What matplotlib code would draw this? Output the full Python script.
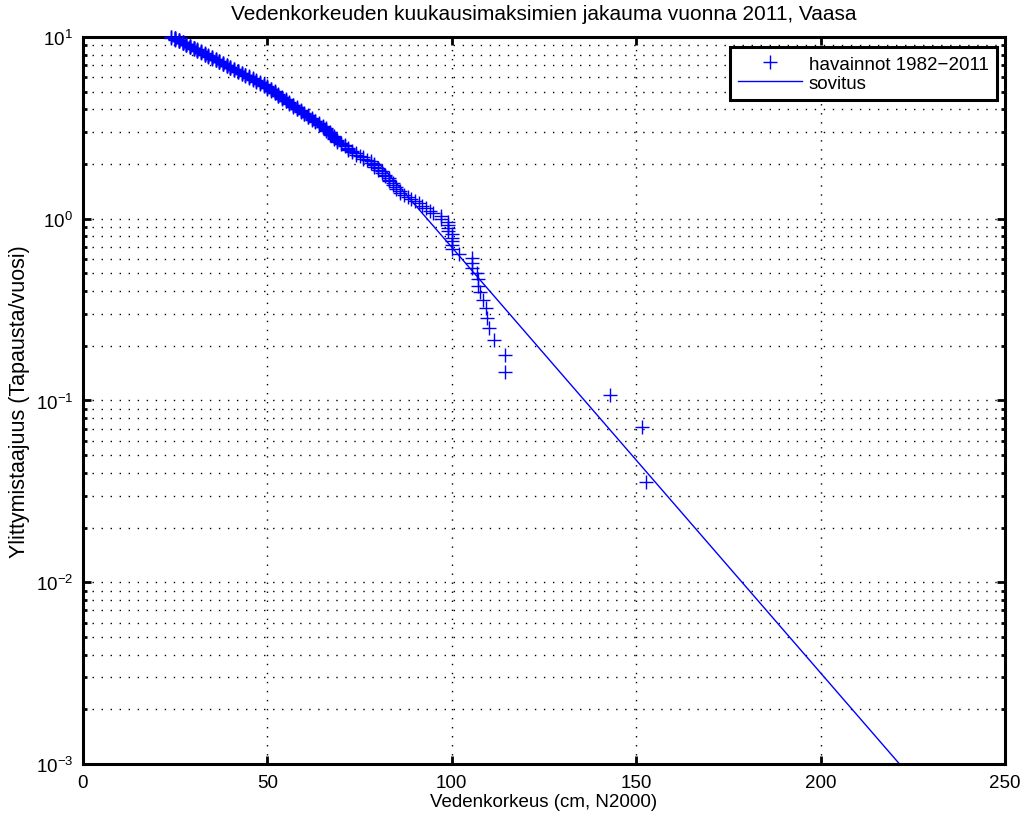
import numpy as np
import matplotlib
matplotlib.use("Agg")
import matplotlib.pyplot as plt
from matplotlib.ticker import LogLocator, FixedLocator, NullLocator

# -------- data --------
YEARS = 28  # vuosia havainnoissa

# monthly maxima (cm, N2000) and how many months reached that level
LEVELS = [152.7, 151.6, 142.9, 114.5, 111.4, 110.1, 109.6, 109.3, 108.5, 107.7,
          107.1, 106.8, 105.5, 102.0, 100.0, 99, 97, 95, 94, 93, 92, 91, 90, 89,
          88, 87, 86, 85, 84, 83, 82, 81, 80, 79, 78, 77, 76, 75, 74, 73, 72,
          71, 70, 69, 68, 67, 66, 65, 64, 63, 62, 61, 60, 59, 58, 57, 56, 55,
          54, 53, 52, 51, 50, 49, 48, 47, 46, 45, 44, 43, 42, 41, 40, 39, 38,
          37, 36, 35, 34, 33, 32, 31, 30, 29, 28, 27, 26, 25, 24]
COUNTS = [1, 1, 1, 2, 1, 1, 1, 1, 1, 1,
          2, 1, 3, 1, 5, 4, 2, 1, 1, 1, 1, 1, 1, 1,
          1, 1, 2, 2, 2, 3, 2, 2, 2, 3, 2, 1, 2, 1, 2, 2, 3,
          2, 2, 3, 4, 4, 4, 3, 3, 3, 3, 4, 3, 4, 4, 4, 4, 4,
          4, 5, 5, 4, 5, 4, 4, 4, 4, 4, 4, 4, 5, 4, 5, 5, 5,
          5, 5, 5, 5, 6, 5, 6, 6, 6, 6, 7, 6, 7, 3]

# fitted line: log10(f) = -(x - FIT_X0) / FIT_DECADE
FIT_X0 = 93.3
FIT_DECADE = 42.7
FIT_RANGE = [80, 230]

X_TICKS = [0, 50, 100, 150, 200, 250]
# ----------------------

FS = 13.5

plt.rcParams["font.family"] = ["Liberation Sans", "DejaVu Sans"]
plt.rcParams["mathtext.fontset"] = "custom"
plt.rcParams["mathtext.rm"] = "Liberation Sans"
plt.rcParams["mathtext.it"] = "Liberation Sans:italic"

# exceedance frequency per year
x_obs = np.repeat(LEVELS, COUNTS)
freq = np.arange(1, len(x_obs) + 1) / YEARS

x_fit = np.array(FIT_RANGE, dtype=float)
y_fit = 10 ** (-(x_fit - FIT_X0) / FIT_DECADE)

fig = plt.figure(figsize=(10.28, 8.2), dpi=100)
ax = fig.add_axes([0.0807, 0.0671, 0.8969, 0.8866])

ax.semilogy(x_obs, freq, '+', color='blue', markersize=10, markeredgewidth=1.0,
            label="havainnot 1982\u22122011", clip_on=False, zorder=3)
ax.semilogy(x_fit, y_fit, '-', color='blue', linewidth=1.0, label="sovitus",
            zorder=2)

ax.set_xlim(0, 250)
ax.set_ylim(1e-3, 1e1)
ax.xaxis.set_major_locator(FixedLocator(X_TICKS))
ax.xaxis.set_minor_locator(NullLocator())
ax.yaxis.set_major_locator(LogLocator(base=10, numticks=10))
ax.yaxis.set_minor_locator(LogLocator(base=10, subs=np.arange(2, 10), numticks=20))

grid_style = dict(color='black', linestyle=(0, (1.0, 5.5)), linewidth=1.0)
ax.grid(True, which='major', **grid_style)
ax.grid(True, which='minor', axis='y', **grid_style)
ax.set_axisbelow(True)

for s in ax.spines.values():
    s.set_linewidth(2.2)
ax.tick_params(which='both', direction='in', top=True, right=True, width=2,
               labelsize=FS)
ax.tick_params(which='major', length=6, pad=7)
ax.tick_params(which='minor', length=3)

ax.set_xlabel("Vedenkorkeus (cm, N2000)", fontsize=FS, labelpad=2)
ax.set_ylabel("Ylittymistaajuus (Tapausta/vuosi)", fontsize=15.5, labelpad=4)
ax.set_title("Vedenkorkeuden kuukausimaksimien jakauma vuonna 2011, Vaasa",
             fontsize=15, pad=13)

leg = ax.legend(loc='upper right', bbox_to_anchor=(0.9913, 0.9862),
                borderaxespad=0, fontsize=FS, numpoints=1, handlelength=3.4,
                fancybox=False, framealpha=1, edgecolor='black',
                borderpad=0.45, labelspacing=0.1, handletextpad=0.35)
leg.get_frame().set_linewidth(2.2)

fig.savefig("out.png", dpi=100)
